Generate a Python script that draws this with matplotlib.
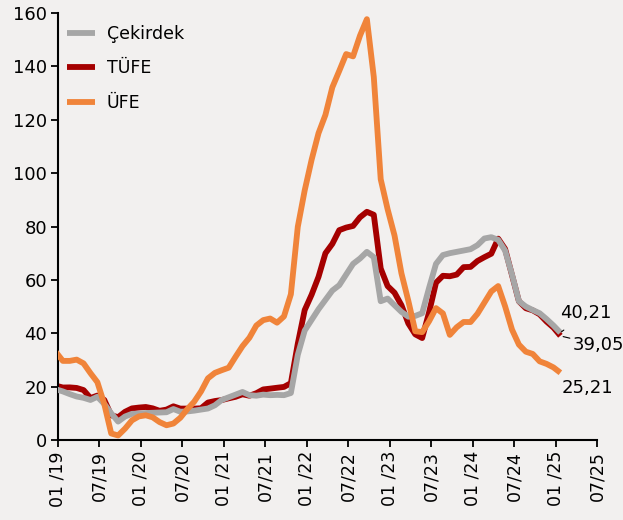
import matplotlib
matplotlib.use("Agg")
import matplotlib.pyplot as plt
import numpy as np

# Monthly annual inflation rates, Jan 2019 - Feb 2025
tufe = [20.35, 19.67, 19.71, 19.50, 18.71, 15.72, 16.65, 15.01, 9.26, 8.55, 10.56, 11.84,
        12.15, 12.37, 11.86, 10.94, 11.39, 12.62, 11.76, 11.77, 11.75, 11.89, 14.03, 14.60,
        14.97, 15.61, 16.19, 17.14, 16.59, 17.53, 18.95, 19.25, 19.58, 19.89, 21.31, 36.08,
        48.69, 54.44, 61.14, 69.97, 73.50, 78.62, 79.60, 80.21, 83.45, 85.51, 84.39, 64.27,
        57.68, 55.18, 50.51, 43.68, 39.59, 38.21, 47.83, 58.94, 61.53, 61.36, 61.98, 64.77,
        64.86, 67.07, 68.50, 69.80, 75.45, 71.60, 61.78, 51.97, 49.38, 48.58, 47.09, 44.38,
        42.12, 39.05]
ufe = [32.93, 29.64, 29.64, 30.12, 28.71, 25.04, 21.66, 13.45, 2.45, 1.70, 4.26, 7.36,
       8.84, 9.26, 8.50, 6.71, 5.53, 6.17, 8.33, 11.53, 14.33, 18.20, 23.11, 25.15,
       26.16, 27.09, 31.20, 35.17, 38.33, 42.89, 44.92, 45.52, 43.96, 46.31, 54.62, 79.89,
       93.53, 105.01, 114.97, 121.82, 132.16, 138.31, 144.61, 143.75, 151.50, 157.69, 136.02, 97.72,
       86.46, 76.61, 62.45, 52.11, 40.76, 40.42, 44.50, 49.41, 47.44, 39.39, 42.25, 44.22,
       44.20, 47.29, 51.47, 55.66, 57.68, 50.09, 41.37, 35.75, 33.09, 32.24, 29.47, 28.52,
       27.20, 25.21]
cekirdek = [19.0, 18.2, 17.2, 16.3, 15.8, 15.0, 16.2, 13.5, 10.0, 6.9, 8.8, 9.8,
            9.9, 10.1, 10.2, 10.3, 10.4, 11.6, 10.6, 10.7, 11.0, 11.4, 11.8, 13.0,
            15.0, 16.0, 17.0, 18.0, 16.8, 16.6, 17.0, 16.8, 16.9, 16.8, 17.6, 31.9,
            41.0, 45.0, 49.0, 52.5, 56.0, 58.0, 62.0, 66.0, 68.0, 70.5, 68.5, 52.0,
            53.0, 50.5, 48.0, 46.2, 46.5, 47.5, 57.0, 66.0, 69.3, 70.0, 70.5, 71.0,
            71.5, 73.0, 75.5, 76.0, 75.0, 71.0, 62.0, 52.0, 50.0, 48.7, 47.5, 45.3,
            42.9, 40.21]
xtick_labels = ["01 /19", "07/19", "01 /20", "07/20", "01 /21", "07/21", "01 /22", "07/22",
                "01 /23", "07/23", "01 /24", "07/24", "01 /25", "07/25"]
series_names = ["Çekirdek", "TÜFE", "ÜFE"]
end_labels = ["40,21", "39,05", "25,21"]

plt.rcParams['font.family'] = ['DejaVu Sans']
bg = "#F2F0EF"
fig = plt.figure(figsize=(6.23, 5.2), dpi=100, facecolor=bg)
ax = fig.add_axes([58/623, 1-440/520, (597-58)/623, (440-13)/520], facecolor=bg)

x = np.arange(len(tufe)) - 0.3
c_red, c_org, c_gry = "#A50000", "#F0843A", "#A6A6A6"
l_t, = ax.plot(x, tufe, color=c_red, lw=4.2, solid_capstyle='butt', zorder=2)
l_c, = ax.plot(x, cekirdek, color=c_gry, lw=4.2, solid_capstyle='butt', zorder=3)
l_u, = ax.plot(x, ufe, color=c_org, lw=4.2, solid_capstyle='butt', zorder=4)

ax.set_xlim(0, 78)
ax.set_ylim(0, 160)
ax.set_yticks(np.arange(0, 161, 20))
ax.set_xticks(np.arange(0, 79, 6))
ax.set_xticklabels(xtick_labels, rotation=90, fontsize=12.5)
ax.tick_params(axis='y', labelsize=13, length=5, width=1.3, pad=3)
ax.tick_params(axis='x', length=5, width=1.3, pad=3)
for s in ['top', 'right']:
    ax.spines[s].set_visible(False)
for s in ['left', 'bottom']:
    ax.spines[s].set_linewidth(1.5)

leg = ax.legend([l_c, l_t, l_u], series_names, loc='upper left', frameon=False,
                fontsize=12.5, handlelength=1.6, handletextpad=0.7, labelspacing=0.95,
                borderaxespad=0, borderpad=0,
                bbox_to_anchor=((67-58)/539, (440-25)/427))

last = x[-1]
ax.annotate(end_labels[0], xy=(last, cekirdek[-1]), xytext=(76.4, 47.5),
            fontsize=13, ha='center', va='center',
            arrowprops=dict(arrowstyle='-', color='black', lw=0.8, shrinkA=6, shrinkB=1))
ax.annotate(end_labels[1], xy=(last + 0.4, tufe[-1] - 0.3), xytext=(78.2, 35.6),
            fontsize=13, ha='center', va='center',
            arrowprops=dict(arrowstyle='-', color='black', lw=0.8, shrinkA=22, shrinkB=0))
ax.text(76.6, 19.5, end_labels[2], fontsize=13, ha='center', va='center')

fig.savefig("out.png", dpi=100, facecolor=bg)
